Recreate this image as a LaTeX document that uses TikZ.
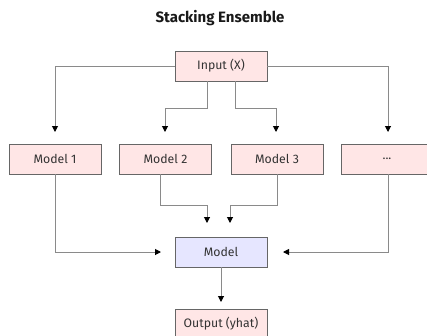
\documentclass[tikz,border=0pt]{standalone}
\usepackage{fontspec}
\setmainfont{Fira Sans}
\usetikzlibrary{arrows.meta}
\definecolor{pinkfill}{HTML}{FFE6E6}
\definecolor{bluefill}{HTML}{E6E6FF}
\definecolor{boxline}{HTML}{666666}
\definecolor{conn}{HTML}{8A8A8A}
\definecolor{txt}{HTML}{333333}
\begin{document}
\begin{tikzpicture}[x=1pt,y=-1pt,
  box/.style={draw=boxline,line width=0.9pt,fill=pinkfill,minimum width=92pt,minimum height=30pt,inner sep=0pt,font=\fontsize{12.3}{14}\selectfont,text=txt},
  mbox/.style={box,fill=bluefill},
  link/.style={draw=conn,line width=1pt},
  tip/.style={-{Triangle[width=6pt,length=6pt,color=black]}}
]
\useasboundingbox (0,0) rectangle (427,335);
\clip (0,0) rectangle (427,335);
\node[font=\bfseries\fontsize{15}{17}\selectfont,text=black!90] (title) at (220,18) {Stacking Ensemble};
\node[box] (in) at (221,66) {Input (X)};
\node[box] (m1) at (55,159) {Model 1};
\node[box] (m2) at (165.5,159) {Model 2};
\node[box] (m3) at (277,159) {Model 3};
\node[box] (m4) at (387,159) {...};
\node[mbox] (meta) at (221,252) {Model};
\node[box] (out) at (221,324) {Output (yhat)};
% coordinates for arrow tips
\coordinate (t1) at (55,132);
\coordinate (t2) at (165,132);
\coordinate (t3) at (276,132);
\coordinate (t4) at (388,132);
\coordinate (tm2) at (207,223);
\coordinate (tm3) at (230,223);
\coordinate (tl) at (161,252);
\coordinate (tr) at (283,252);
\coordinate (to) at (221,302);
% input to models
\draw[link,tip] (in.west) -| (t1);
\draw[link,tip] (in.east) -| (t4);
\draw[link,tip] (207,81) |- (165,108) -- (t2);
\draw[link,tip] (235,81) |- (276,108) -- (t3);
% models to meta
\draw[link,tip] (m1.south) |- (tl);
\draw[link,tip] (160,174) |- (207,205) -- (tm2);
\draw[link,tip] (m3.south) |- (230,205) -- (tm3);
\draw[link,tip] (388,174) |- (tr);
\draw[link,tip] (meta.south) -- (to);
\end{tikzpicture}
\end{document}
